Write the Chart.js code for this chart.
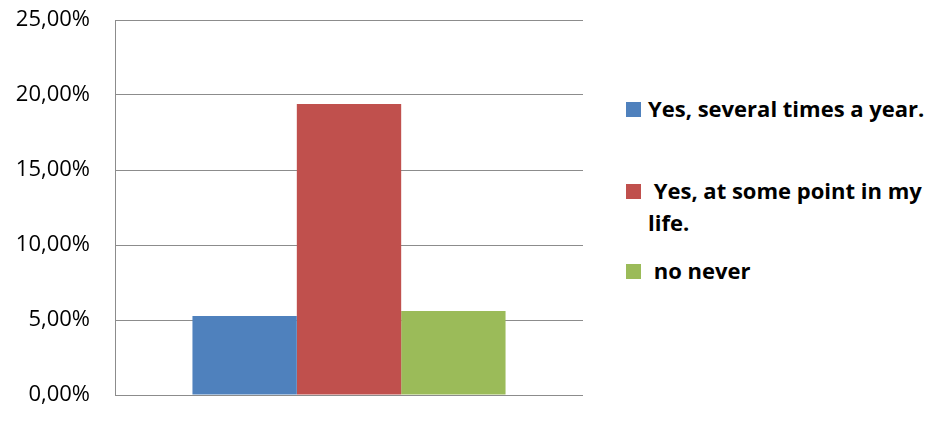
<!DOCTYPE html>
<html>
<head>
<meta charset="utf-8">
<script src="https://cdn.jsdelivr.net/npm/chart.js@4.4.1/dist/chart.umd.min.js"></script>
<style>
    html, body { margin: 0; padding: 0; background: #fff; }
    #wrap { position: relative; width: 931px; height: 422px; overflow: hidden; }
    #chartBox { position: absolute; left: 0; top: 0; width: 600px; height: 422px; }
    .legend-item { position: absolute; left: 626px; font-family: "Open Sans", sans-serif; font-weight: bold; font-size: 22px; line-height: 32px; color: #000; }
    .legend-item .sw { position: absolute; left: 0; width: 15px; height: 15px; top: 10px; }
    .legend-item .tx { margin-left: 22px; width: 300px; white-space: pre-wrap; }
    #leg0 { top: 92px; }
    #leg1 { top: 174px; }
    #leg2 { top: 254px; }
</style>
</head>
<body>
<div id="wrap">
    <div id="chartBox"><canvas id="chart"></canvas></div>
    <div id="legend"></div>
</div>
<script>
// values (percent)
const categories = [""];
const seriesNames = ["Yes, several times a year.", " Yes, at some point in my life.", " no never"];
const seriesValues = [[5.27], [19.4], [5.6]];
const seriesColors = ["#4F81BD", "#C0504D", "#9BBB59"];
const yTicks = [0, 5, 10, 15, 20, 25];

const datasets = seriesNames.map((name, i) => ({
    label: name,
    data: seriesValues[i],
    backgroundColor: seriesColors[i],
    borderWidth: 0,
    barPercentage: 1.0,
    categoryPercentage: 0.669,
}));

new Chart(document.getElementById("chart"), {
    type: "bar",
    data: { labels: categories, datasets: datasets },
    options: {
        responsive: true,
        maintainAspectRatio: false,
        animation: false,
        layout: { padding: { top: 20, bottom: 27, right: 17, left: 0 } },
        plugins: { legend: { display: false }, tooltip: { enabled: false } },
        scales: {
            x: { display: false },
            y: {
                min: yTicks[0],
                max: yTicks[yTicks.length - 1],
                afterFit: (scale) => {
                    // fixed axis width, and don't let tick padding push the plot down
                    scale.width = 115;
                    scale.paddingTop = 0;
                    scale.paddingBottom = 0;
                },
                afterBuildTicks: (scale) => { scale.ticks = yTicks.map(v => ({ value: v })); },
                ticks: {
                    color: "#000",
                    padding: 25,
                    font: { family: "Open Sans", size: 22 },
                    callback: (v) => v.toFixed(2).replace(".", ",") + "%",
                },
                grid: { color: "#8c8c8c", lineWidth: 1, drawTicks: false },
                border: { display: true, color: "#8c8c8c", width: 1 },
            },
        },
    },
});

// legend built from the same arrays
const legend = document.getElementById("legend");
seriesNames.forEach((name, i) => {
    const item = document.createElement("div");
    item.className = "legend-item";
    item.id = "leg" + i;
    const sw = document.createElement("span");
    sw.className = "sw";
    sw.style.background = seriesColors[i];
    const tx = document.createElement("div");
    tx.className = "tx";
    tx.textContent = name;
    item.appendChild(sw);
    item.appendChild(tx);
    legend.appendChild(item);
});
</script>
</body>
</html>
